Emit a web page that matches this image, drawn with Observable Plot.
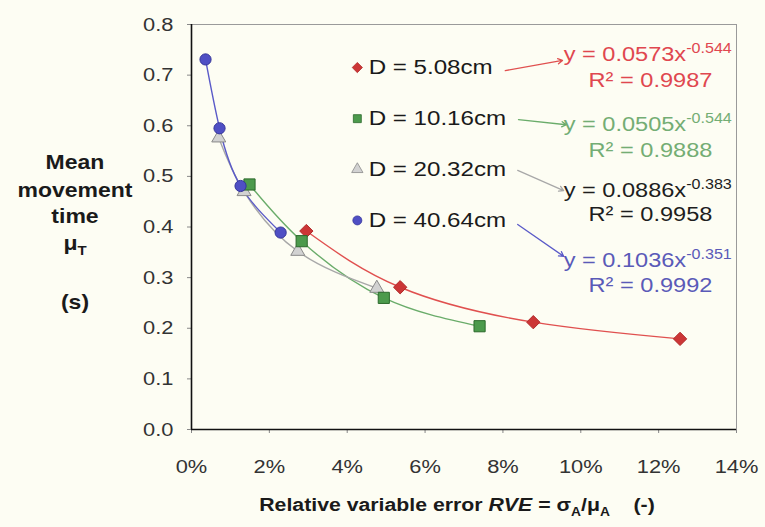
<!DOCTYPE html>
<html><head><meta charset="utf-8">
<script src="https://cdn.jsdelivr.net/npm/d3@7"></script>
<script src="https://cdn.jsdelivr.net/npm/@observablehq/plot@0.6"></script>
<style>
html,body{margin:0;padding:0;background:#fdfdf3;}
#chart svg{display:block;}
</style></head><body><div id="chart"></div>
<script>
// ---- data ----
const seriesNames = ["D = 5.08cm", "D = 10.16cm", "D = 20.32cm", "D = 40.64cm"];
const redX = [0.0295, 0.0536, 0.0878, 0.1255];
const redY = [0.392, 0.281, 0.212, 0.179];
const greenX = [0.0149, 0.0283, 0.0494, 0.0740];
const greenY = [0.484, 0.372, 0.260, 0.204];
const grayX = [0.0070, 0.0135, 0.0273, 0.0476];
const grayY = [0.576, 0.470, 0.352, 0.279];
const blueX = [0.0036, 0.0072, 0.0126, 0.0229];
const blueY = [0.731, 0.595, 0.481, 0.389];
const equations = ["y = 0.0573x^-0.544", "y = 0.0505x^-0.544", "y = 0.0886x^-0.383", "y = 0.1036x^-0.351"];
const rSquared = ["R² = 0.9987", "R² = 0.9888", "R² = 0.9958", "R² = 0.9992"];
const xTicks = [0, 0.02, 0.04, 0.06, 0.08, 0.10, 0.12, 0.14];
const yTicks = [0, 0.1, 0.2, 0.3, 0.4, 0.5, 0.6, 0.7, 0.8];
// annotation anchors (data units)
const legendMarkX = 0.0426, legendTextX = 0.0455;
const legendY = [0.715, 0.614, 0.514, 0.413];
const eqX = 0.0956, eqY = [0.741, 0.602, 0.472, 0.334];
const r2X = 0.1179, r2Y = [0.689, 0.551, 0.425, 0.284];
const arrowX1 = [0.0806, 0.0840, 0.0838, 0.0838], arrowY1 = [0.709, 0.612, 0.512, 0.405];
const arrowX2 = [0.0953, 0.0963, 0.0956, 0.0956], arrowY2 = [0.729, 0.602, 0.472, 0.342];

// styles
const lineColors = ["#e0504f", "#6aac6a", "#a8a8a8", "#5a5ac8"];
const fillColors = ["#cc3636", "#4c9a4c", "#d2d2d2", "#4f4fc4"];
const strokeColors = ["#b02a2a", "#2c6a2c", "#8a8a8a", "#36369a"];
const textColors = ["#e0474f", "#74ad74", "#1e1e1e", "#5a5ab8"];
const symbols = ["diamond2", "square", "triangle", "circle"];
const dotR = [6.0, 6.3, 5.2, 5.6];
const legR = [4.6, 4.5, 4.2, 4.5];

const xs = [redX, greenX, grayX, blueX], ys = [redY, greenY, grayY, blueY];
const pts = [];
xs.forEach((X, s) => X.forEach((x, i) => pts.push({s, x, y: ys[s][i]})));
const ann = seriesNames.map((n, s) => ({s, n, ly: legendY[s], eq: equations[s], ey: eqY[s], r2: rSquared[s], ry: r2Y[s],
  x1: arrowX1[s], y1: arrowY1[s], x2: arrowX2[s], y2: arrowY2[s]}));

const FONT = "'Liberation Sans', Arial, sans-serif";
const W = 765, H = 527, ML = 191, MR = 29, MT = 24, MB = 98;

const marks = [];
[0, 1, 2, 3].forEach(s => {
  marks.push(Plot.line(pts.filter(d => d.s === s), {x: "x", y: "y", curve: "natural", stroke: lineColors[s], strokeWidth: 1.4}));
});
// frame
marks.push(Plot.ruleY([0.8], {stroke: "#9a9a9a", strokeWidth: 1}));
marks.push(Plot.ruleX([0.14], {stroke: "#9a9a9a", strokeWidth: 1}));
marks.push(Plot.ruleX([0], {stroke: "#111", strokeWidth: 1.6}));
marks.push(Plot.ruleY([0], {stroke: "#111", strokeWidth: 1.6}));
// markers
[2, 0, 1, 3].forEach(s => {
  marks.push(Plot.dot(pts.filter(d => d.s === s), {x: "x", y: "y", symbol: () => symbols[s], r: dotR[s], fill: fillColors[s], stroke: strokeColors[s], strokeWidth: 1}));
});
// legend
ann.forEach(a => {
  marks.push(Plot.dot([a], {x: () => legendMarkX, y: "ly", symbol: () => symbols[a.s], r: legR[a.s], fill: fillColors[a.s], stroke: strokeColors[a.s], strokeWidth: 0.8}));
});
marks.push(Plot.text(ann, {x: () => legendTextX, y: "ly", text: "n", textAnchor: "start", fontSize: 21, fill: "#1a1a1a", fontFamily: FONT}));
// arrows
marks.push(Plot.arrow(ann, {x1: "x1", y1: "y1", x2: "x2", y2: "y2", stroke: d => lineColors[d.s], strokeWidth: 1.3, headLength: 6, bend: 0}));
// equations
marks.push(Plot.text(ann, {x: () => eqX, y: "ey", text: "eq", textAnchor: "start", fontSize: 20.5, fill: d => textColors[d.s], fontFamily: FONT}));
marks.push(Plot.text(ann, {x: () => r2X, y: "ry", text: "r2", textAnchor: "middle", fontSize: 20.5, fill: d => textColors[d.s], fontFamily: FONT}));

const svg = Plot.plot({
  width: W, height: H, marginLeft: ML, marginRight: MR, marginTop: MT, marginBottom: MB,
  style: {background: "#fdfdf3", fontFamily: FONT, fontSize: "19px", color: "#333"},
  x: {domain: [0, 0.14], ticks: xTicks, tickFormat: d3.format(".0%"), tickSize: 4, tickPadding: 26, label: null},
  y: {domain: [0, 0.8], ticks: yTicks, tickFormat: d3.format(".1f"), tickSize: 4, tickPadding: 14, label: null},
  marks
});

const S = d3.select(svg);
// superscripts
S.selectAll("text").each(function() {
  const t = this.textContent;
  if (t.includes("^")) {
    const [a, b] = t.split("^");
    const sel = d3.select(this);
    sel.text(null);
    sel.append("tspan").text(a);
    sel.append("tspan").attr("dy", "-8").attr("font-size", "14px").text(b);
  }
});
// titles
const yT = S.append("g").attr("font-family", FONT).attr("font-weight", "bold").attr("font-size", "20px").attr("fill", "#1a1a1a").attr("text-anchor", "middle");
[["Mean", 162], ["movement", 190], ["time", 216], ["(s)", 302]].forEach(([t, y]) => {
  yT.append("text").attr("transform", `translate(75,${y})`).attr("dy", "0.35em").text(t);
});
const mu = yT.append("text").attr("transform", `translate(75,243)`).attr("dy", "0.35em");
mu.append("tspan").text("μ");
mu.append("tspan").attr("font-size", "13px").attr("dy", "5").text("T");

const xT = S.append("text").attr("transform", `translate(457,505)`).attr("dy", "0.35em")
  .attr("font-family", FONT).attr("font-weight", "bold").attr("font-size", "18.5px").attr("fill", "#1a1a1a").attr("text-anchor", "middle");
xT.append("tspan").text("Relative variable error ");
xT.append("tspan").attr("font-style", "italic").text("RVE");
xT.append("tspan").text(" = σ");
xT.append("tspan").attr("font-size", "12px").attr("dy", "5").text("A");
xT.append("tspan").attr("dy", "-5").text("/μ");
xT.append("tspan").attr("font-size", "12px").attr("dy", "5").text("A");
xT.append("tspan").attr("dy", "-5").text("\u00a0\u00a0\u00a0\u00a0(-)");

// horizontal stretch of all text to mimic the reference
const SX = 1.15;
S.selectAll("text").each(function() {
  const t = this.getAttribute("transform");
  if (t) this.setAttribute("transform", t + ` scale(${SX},1)`);
  else {
    const x = +(this.getAttribute("x") || 0), y = +(this.getAttribute("y") || 0);
    this.removeAttribute("x"); this.removeAttribute("y");
    this.setAttribute("transform", `translate(${x},${y}) scale(${SX},1)`);
  }
});
S.selectAll("[aria-label='x-axis tick'] path, [aria-label='y-axis tick'] path").attr("stroke", "#888");
document.getElementById("chart").appendChild(svg);
</script></body></html>
